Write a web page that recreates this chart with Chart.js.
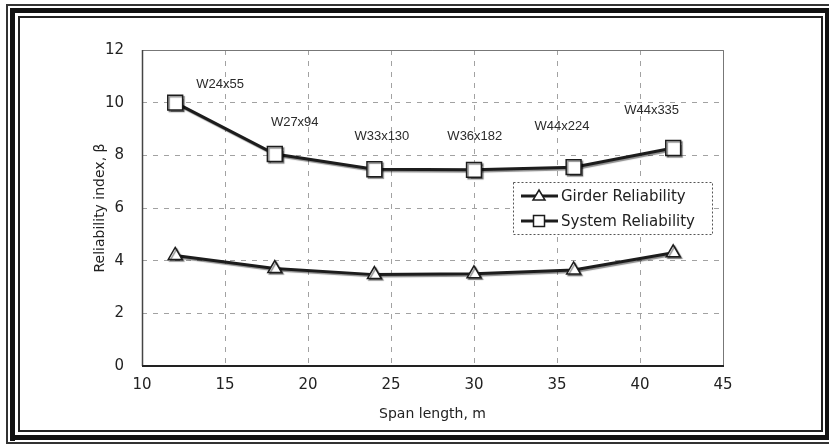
<!DOCTYPE html>
<html>
<head>
<meta charset="utf-8">
<script src="https://cdn.jsdelivr.net/npm/chart.js@4/dist/chart.umd.min.js"></script>
<style>
html,body{margin:0;padding:0;background:#fff;}
#wrap{width:829px;height:444px;position:relative;}
</style>
</head>
<body>
<div id="wrap"><canvas id="c" width="829" height="444"></canvas></div>
<script>
// ---- data ----
const spans = [12, 18, 24, 30, 36, 42];
const girderReliability = [4.2, 3.7, 3.47, 3.5, 3.65, 4.3];
const systemReliability = [10.0, 8.05, 7.47, 7.45, 7.55, 8.28];
const sectionLabels = ['W24x55', 'W27x94', 'W33x130', 'W36x182', 'W44x224', 'W44x335'];
const labelX = [14.7, 19.2, 24.45, 30.05, 35.3, 40.7];
const labelY = [10.7, 9.25, 8.7, 8.7, 9.1, 9.7];
const xTicks = [10, 15, 20, 25, 30, 35, 40, 45];
const yTicks = [0, 2, 4, 6, 8, 10, 12];

const INK = '#1c1c1c';

function pts(xs, ys){ return xs.map((x,i)=>({x:x, y:ys[i]})); }

const framePlugin = {
  id: 'frame',
  beforeDraw(chart){
    const ctx = chart.ctx;
    ctx.save();
    ctx.fillStyle = '#fff';
    ctx.fillRect(0,0,chart.width,chart.height);
    // outer thin
    ctx.fillStyle = '#333';
    ctx.fillRect(6,4,829,2);
    ctx.fillRect(6,4,2,440);
    ctx.fillRect(6,442,829,2);
    // thick
    ctx.fillStyle = '#111';
    ctx.fillRect(10,8,829,5);
    ctx.fillRect(10,8,5,433);
    ctx.fillRect(10,435,829,5);
    ctx.fillRect(825,8,6,432);
    // inner thin
    ctx.fillStyle = '#222';
    ctx.fillRect(18,16,805,2);
    ctx.fillRect(18,16,2,416);
    ctx.fillRect(18,430,805,2);
    ctx.fillRect(821,16,2,416);
    ctx.restore();
  },
  beforeDatasetsDraw(chart){
    const {ctx, chartArea:a} = chart;
    ctx.save();
    ctx.lineWidth = 1;
    ctx.strokeStyle = '#777';
    ctx.beginPath();
    ctx.moveTo(a.left, a.top+0.5); ctx.lineTo(a.right+0.5, a.top+0.5);
    ctx.lineTo(a.right+0.5, a.bottom);
    ctx.stroke();
    ctx.strokeStyle = '#444';
    ctx.lineWidth = 1.5;
    ctx.beginPath();
    ctx.moveTo(a.left+0.5, a.top); ctx.lineTo(a.left+0.5, a.bottom);
    ctx.stroke();
    ctx.lineWidth = 2;
    ctx.strokeStyle = '#222';
    ctx.beginPath();
    ctx.moveTo(a.left, a.bottom); ctx.lineTo(a.right+1, a.bottom);
    ctx.stroke();
    ctx.restore();
    // shadow for marks
    ctx.save();
    ctx.shadowColor = 'rgba(0,0,0,0.45)';
    ctx.shadowOffsetX = 1.5;
    ctx.shadowOffsetY = 1.5;
    ctx.shadowBlur = 1;
  },
  afterDatasetsDraw(chart){
    const ctx = chart.ctx;
    ctx.restore();
    const xs = chart.scales.x, ys = chart.scales.y;
    // section labels
    ctx.save();
    ctx.fillStyle = '#2a2a2a';
    ctx.font = '13px "Liberation Sans", Arial, sans-serif';
    ctx.textAlign = 'center';
    ctx.textBaseline = 'middle';
    sectionLabels.forEach((t,i)=>{
      ctx.fillText(t, xs.getPixelForValue(labelX[i]), ys.getPixelForValue(labelY[i]));
    });
    ctx.restore();
    // legend
    const bx = 513, by = 182, bw = 199, bh = 52;
    ctx.save();
    ctx.fillStyle = '#fff';
    ctx.fillRect(bx, by, bw, bh);
    ctx.strokeStyle = '#555';
    ctx.lineWidth = 1;
    ctx.setLineDash([2,2]);
    ctx.strokeRect(bx+0.5, by+0.5, bw, bh);
    ctx.setLineDash([]);
    chart.data.datasets.forEach((ds, i)=>{
      const y = by + 14 + i*25;
      ctx.strokeStyle = INK;
      ctx.lineWidth = 3;
      ctx.beginPath(); ctx.moveTo(521, y); ctx.lineTo(558, y); ctx.stroke();
      ctx.fillStyle = '#fff';
      ctx.lineWidth = 1.5;
      const cx = 539;
      ctx.beginPath();
      if (ds.pointStyle === 'triangle') {
        ctx.moveTo(cx, y-6); ctx.lineTo(cx+6, y+4); ctx.lineTo(cx-6, y+4); ctx.closePath();
      } else {
        ctx.rect(cx-5.5, y-5.5, 11, 11);
      }
      ctx.fill(); ctx.stroke();
      ctx.fillStyle = '#222';
      ctx.font = '15px "DejaVu Sans", Verdana, sans-serif';
      ctx.textAlign = 'left';
      ctx.textBaseline = 'middle';
      ctx.fillText(ds.label, 561, y+1);
    });
    ctx.restore();
  }
};

new Chart(document.getElementById('c'), {
  type: 'scatter',
  data: {
    datasets: [
      {
        label: 'Girder Reliability',
        data: pts(spans, girderReliability),
        showLine: true,
        borderColor: INK,
        borderWidth: 3,
        pointStyle: 'triangle',
        pointRadius: 8,
        pointBorderWidth: 1.5,
        pointBackgroundColor: '#fff',
        pointBorderColor: INK
      },
      {
        label: 'System Reliability',
        data: pts(spans, systemReliability),
        showLine: true,
        borderColor: INK,
        borderWidth: 3,
        pointStyle: 'rect',
        pointRadius: 10.5,
        pointBorderWidth: 1.5,
        pointBackgroundColor: '#fff',
        pointBorderColor: INK
      }
    ]
  },
  options: {
    responsive: false,
    animation: false,
    devicePixelRatio: 1,
    layout: { padding: { left: 88, top: 50, right: 106, bottom: 21 } },
    plugins: { legend: { display: false }, tooltip: { enabled: false } },
    scales: {
      x: {
        type: 'linear',
        min: 10, max: 45,
        afterFit: s => { s.height = 57; },
        afterBuildTicks: s => { s.ticks = xTicks.map(v=>({value:v})); },
        ticks: { color: '#222', padding: 10, font: { family: '"DejaVu Sans", Verdana, sans-serif', size: 15 } },
        grid: { color: '#a2a2a2', lineWidth: 1, drawTicks: false },
        border: { display: false, dash: [5,6] },
        title: { display: true, text: 'Span length, m', color: '#222', padding: { top: 0, bottom: 0 },
                 font: { family: '"DejaVu Sans", Verdana, sans-serif', size: 14 } }
      },
      y: {
        type: 'linear',
        min: 0, max: 12,
        afterFit: s => { s.width = 54; },
        afterBuildTicks: s => { s.ticks = yTicks.map(v=>({value:v})); },
        ticks: { color: '#222', padding: 18, font: { family: '"DejaVu Sans", Verdana, sans-serif', size: 15 } },
        grid: { color: '#a2a2a2', lineWidth: 1, drawTicks: false },
        border: { display: false, dash: [5,6] },
        title: { display: true, text: 'Reliability index, β', color: '#222', padding: { top: 4, bottom: 0 },
                 font: { family: '"DejaVu Sans", Verdana, sans-serif', size: 14 } }
      }
    }
  },
  plugins: [framePlugin]
});
</script>
</body>
</html>
